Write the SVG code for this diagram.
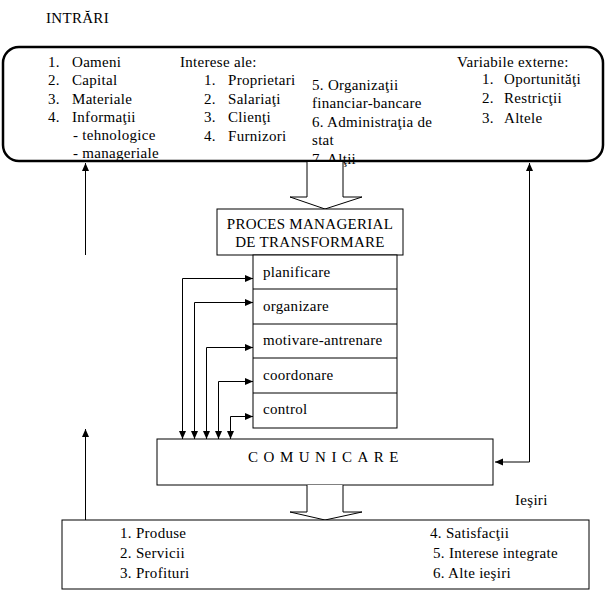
<svg xmlns="http://www.w3.org/2000/svg" width="616" height="593" viewBox="0 0 616 593">
<defs>
<marker id="ah" viewBox="0 0 8 8" refX="8" refY="4" markerWidth="8" markerHeight="8" markerUnits="userSpaceOnUse" orient="auto-start-reverse">
<path d="M0,0.5 L8,4 L0,7.5 Z" fill="#000"/>
</marker>
</defs>
<style>
text{font-family:"Liberation Serif","Times New Roman",serif;font-size:15px;fill:#000;letter-spacing:0.3px}
.box{fill:#fff;stroke:#000;stroke-width:1}
.conn{fill:none;stroke:#000;stroke-width:1}
.big{fill:#fff;stroke:#000;stroke-width:1}
</style>
<rect width="616" height="593" fill="#fff"/>
<text x="46" y="23">INTRĂRI</text>

<g id="intrari">
<text x="48" y="67">1.</text><text x="72" y="67">Oameni</text>
<text x="48" y="85">2.</text><text x="72" y="85">Capital</text>
<text x="48" y="104">3.</text><text x="72" y="104">Materiale</text>
<text x="48" y="122">4.</text><text x="72" y="122">Informaţii</text>
<text x="73" y="140">- tehnologice</text>
<text x="73" y="158">- manageriale</text>
<text x="180" y="67">Interese ale:</text>
<text x="204" y="85">1.</text><text x="228" y="85">Proprietari</text>
<text x="204" y="104">2.</text><text x="228" y="104">Salariaţi</text>
<text x="204" y="122">3.</text><text x="228" y="122">Clienţi</text>
<text x="204" y="141">4.</text><text x="228" y="141">Furnizori</text>
<text x="312" y="90">5. Organizaţii</text>
<text x="312" y="108">financiar-bancare</text>
<text x="312" y="127">6. Administraţia de</text>
<text x="312" y="145">stat</text>
<text x="312" y="164">7. Alţii</text>
<text x="457" y="67">Variabile externe:</text>
<text x="482" y="84">1.</text><text x="504" y="84">Oportunităţi</text>
<text x="482" y="103">2.</text><text x="504" y="103">Restricţii</text>
<text x="482" y="123">3.</text><text x="504" y="123">Altele</text>
<rect x="3" y="47" width="600" height="114" rx="16" ry="16" fill="none" stroke="#000" stroke-width="2.5"/>
</g>

<g id="arrow-in">
<path class="big" d="M307,162 V197 H290 L325,209 L362,197 H343 V162"/>
</g>

<g id="proces">
<rect class="box" x="217" y="209" width="186" height="46"/>
<text x="310" y="229" text-anchor="middle">PROCES MANAGERIAL</text>
<text x="310" y="247" text-anchor="middle">DE TRANSFORMARE</text>
</g>

<g id="functii">
<rect class="box" x="253" y="255" width="144" height="173"/>
<line class="conn" x1="253" y1="289" x2="397" y2="289"/>
<line class="conn" x1="253" y1="324" x2="397" y2="324"/>
<line class="conn" x1="253" y1="358" x2="397" y2="358"/>
<line class="conn" x1="253" y1="393" x2="397" y2="393"/>
<text x="263" y="277">planificare</text>
<text x="263" y="311">organizare</text>
<text x="263" y="345">motivare-antrenare</text>
<text x="263" y="380">coordonare</text>
<text x="263" y="414">control</text>
</g>

<g id="comunicare">
<rect class="box" x="157" y="439" width="336" height="46"/>
<text x="326" y="462" text-anchor="middle" style="letter-spacing:5.5px">COMUNICARE</text>
</g>

<g id="arrow-out">
<path class="big" d="M307,485 V512 H290 L325,520 L362,512 H343 V485"/>
</g>

<text x="515" y="505">Ieşiri</text>

<g id="iesiri">
<rect class="box" x="62" y="520" width="527" height="69"/>
<text x="120" y="538">1. Produse</text>
<text x="120" y="558">2. Servicii</text>
<text x="120" y="578">3. Profituri</text>
<text x="430" y="538">4.  Satisfacţii</text>
<text x="433" y="558">5. Interese integrate</text>
<text x="433" y="578">6. Alte ieşiri</text>
</g>

<g id="connectors">
<line class="conn" x1="85.5" y1="255" x2="85.5" y2="163" marker-end="url(#ah)"/>
<line class="conn" x1="85.5" y1="520" x2="85.5" y2="429" marker-end="url(#ah)"/>
<path class="conn" d="M495,462 H529.5 V163" marker-start="url(#ah)" marker-end="url(#ah)"/>
<path class="conn" d="M253,278.5 H182.5 V439" marker-start="url(#ah)" marker-end="url(#ah)"/>
<path class="conn" d="M253,302.5 H194.5 V439" marker-start="url(#ah)" marker-end="url(#ah)"/>
<path class="conn" d="M253,347.5 H206.5 V439" marker-start="url(#ah)" marker-end="url(#ah)"/>
<path class="conn" d="M253,381.5 H218.5 V439" marker-start="url(#ah)" marker-end="url(#ah)"/>
<path class="conn" d="M253,416.5 H230.5 V439" marker-start="url(#ah)" marker-end="url(#ah)"/>
</g>
</svg>
